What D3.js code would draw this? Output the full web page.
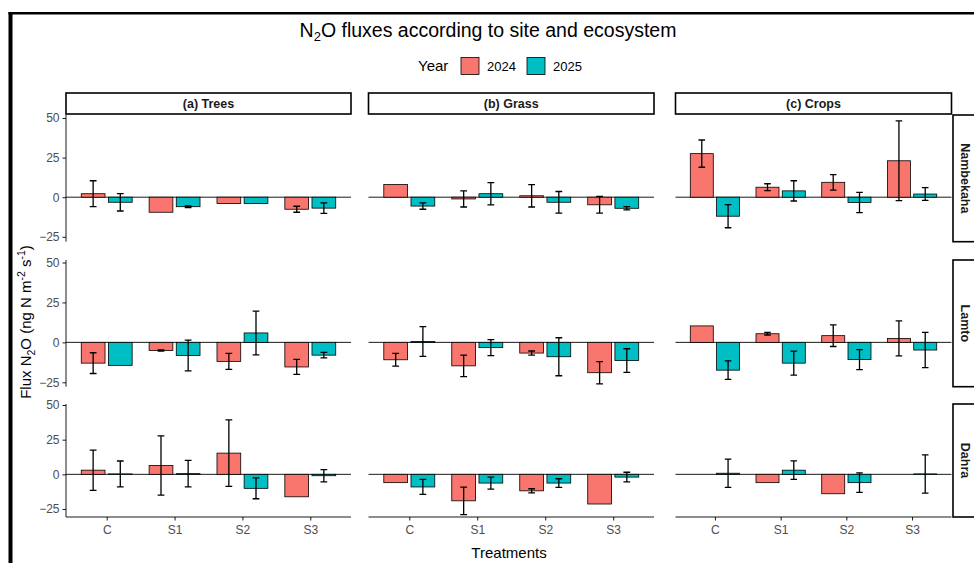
<!DOCTYPE html>
<html>
<head>
<meta charset="utf-8">
<title>N2O fluxes according to site and ecosystem</title>
<script src="https://d3js.org/d3.v7.min.js"></script>
<style>
	body { margin: 0; background: #fff; }
	svg { display: block; font-family: "Liberation Sans", Arial, Helvetica, sans-serif; }
	.strip rect { fill: #fff; stroke: #000; stroke-width: 1.6; }
	.strip text { font-weight: bold; font-size: 12.5px; fill: #1a1a1a; }
	.axis .tick text { font-size: 12px; fill: #4d4d4d; font-family: "Liberation Sans", Arial, sans-serif; }
	.axis .tick line { stroke: #000; stroke-width: 0.9; }
	.axis-line, .zero { stroke: #000; stroke-width: 0.9; }
	.bar { stroke: #000; stroke-width: 0.8; }
	.err { stroke: #000; stroke-width: 1.3; fill: none; }
</style>
</head>
<body>
<div id="chart"></div>
<script>
	// ---- data (mean flux and standard error) ----
	var sites = ["Nambekaha", "Lamto", "Dahra"];
	var ecosystems = ["(a) Trees", "(b) Grass", "(c) Crops"];
	var treatments = ["C", "S1", "S2", "S3"];
	var years = ["2024", "2025"];

	// rows: Trees, Grass, Crops ; columns: C, S1, S2, S3
	var nambekaha2024 = [[2.2, -9.5, -4.0, -7.6], [8.0, -1.1, 0.9, -4.8], [27.5, 6.3, 9.4, 23.0]];
	var nambekaha2024se = [[8.2, null, null, 1.9], [null, 5.1, 7.1, 5.3], [8.6, 2.2, 4.9, 25.2]];
	var nambekaha2025 = [[-3.2, -6.0, -4.0, -6.9], [-5.6, 2.2, -3.2, -7.0], [-12.0, 4.0, -3.3, 2.0]];
	var nambekaha2025se = [[5.5, 0.5, null, 3.3], [2.0, 7.0, 6.8, 1.0], [7.3, 6.4, 6.4, 4.0]];

	var lamto2024 = [[-13.0, -5.1, -11.9, -15.4], [-10.9, -14.7, -6.7, -19.0], [10.3, 5.4, 4.2, 2.5]];
	var lamto2024se = [[6.5, 0.4, 5.0, 4.7], [4.0, 6.7, 1.3, 7.0], [null, 0.8, 6.8, 10.9]];
	var lamto2025 = [[-14.4, -8.2, 5.9, -8.0], [0.5, -3.3, -9.0, -11.4], [-17.4, -13.0, -10.8, -4.8]];
	var lamto2025se = [[null, 9.6, 13.7, 1.7], [9.3, 5.0, 11.9, 7.4], [5.8, 7.5, 6.3, 11.0]];

	var dahra2024 = [[3.0, 6.4, 15.3, -16.2], [-6.0, -19.1, -11.9, -21.4], [null, -6.0, -14.0, null]];
	var dahra2024se = [[14.5, 21.4, 24.0, null], [null, 9.9, 1.5, null], [null, null, null, null]];
	var dahra2025 = [[0.3, 0.5, -10.1, -1.0], [-9.1, -6.3, -6.3, -2.0], [0.8, 3.0, -6.0, 0.3]];
	var dahra2025se = [[9.3, 9.6, 7.5, 4.4], [5.4, 4.3, 3.1, 3.5], [10.2, 6.7, 7.0, 13.8]];

	var yTicks = [-25, 0, 25, 50];

	var means = [[nambekaha2024, nambekaha2025], [lamto2024, lamto2025], [dahra2024, dahra2025]];
	var errors = [[nambekaha2024se, nambekaha2025se], [lamto2024se, lamto2025se], [dahra2024se, dahra2025se]];

	// ---- layout ----
	var width = 974, height = 563;
	var cols = [[66, 351], [368.5, 654], [675.5, 951.5]];
	var rows = [
		{top: 115, bottom: 241.7, at50: 118, atm25: 236.8},
		{top: 260, bottom: 386.7, at50: 262.5, atm25: 382.3},
		{top: 404, bottom: 517, at50: 405, atm25: 509}
	];
	var stripTop = 93, stripH = 21;
	var rightStripX = 953;

	var color = d3.scaleOrdinal().domain(years).range(["#F8766D", "#00BFC4"]);

	var svg = d3.select("#chart").append("svg")
		.attr("width", width)
		.attr("height", height);

	svg.append("rect").attr("width", width).attr("height", height).attr("fill", "#fff");

	// frame of the screenshot
	svg.append("rect").attr("x", 8.5).attr("y", 12).attr("width", width).attr("height", 2.5).attr("fill", "#000");
	svg.append("rect").attr("x", 8.5).attr("y", 12).attr("width", 4).attr("height", height).attr("fill", "#000");

	// title
	var title = svg.append("text")
		.attr("x", 488).attr("y", 36.5)
		.attr("text-anchor", "middle")
		.style("font-size", "19.5px");
	title.append("tspan").text("N");
	title.append("tspan").attr("dy", 4).style("font-size", "13px").text("2");
	title.append("tspan").attr("dy", -4).text("O fluxes according to site and ecosystem");

	// legend
	var legend = svg.append("g");
	legend.append("text").attr("x", 418).attr("y", 71).style("font-size", "15px").text("Year");
	var legendX = [461, 527];
	years.forEach(function(yr, k) {
		legend.append("rect")
			.attr("x", legendX[k]).attr("y", 57.5)
			.attr("width", 18).attr("height", 17)
			.attr("fill", color(yr))
			.attr("stroke", "#000").attr("stroke-width", 0.8);
		legend.append("text")
			.attr("x", legendX[k] + 26).attr("y", 70.5)
			.style("font-size", "13px")
			.text(yr);
	});

	// top strips
	ecosystems.forEach(function(eco, j) {
		var g = svg.append("g").attr("class", "strip");
		g.append("rect").attr("x", cols[j][0]).attr("y", stripTop)
			.attr("width", cols[j][1] - cols[j][0]).attr("height", stripH);
		g.append("text").attr("x", (cols[j][0] + cols[j][1]) / 2).attr("y", stripTop + 15)
			.attr("text-anchor", "middle").text(eco);
	});

	// right strips
	sites.forEach(function(site, i) {
		var r = rows[i];
		var g = svg.append("g").attr("class", "strip");
		g.append("rect").attr("x", rightStripX).attr("y", r.top)
			.attr("width", 26).attr("height", r.bottom - r.top);
		g.append("text")
			.attr("transform", "translate(" + (rightStripX + 7.5) + "," + ((r.top + r.bottom) / 2) + ") rotate(90)")
			.attr("text-anchor", "middle").text(site);
	});

	// panels
	sites.forEach(function(site, i) {
		var r = rows[i];
		var y = d3.scaleLinear().domain([-25, 50]).range([r.atm25, r.at50]);

		ecosystems.forEach(function(eco, j) {
			var x = d3.scalePoint().domain(treatments).range(cols[j]).padding(0.6);
			var step = x.step();
			var g = svg.append("g");

			g.append("line").attr("class", "zero")
				.attr("x1", cols[j][0]).attr("x2", cols[j][1])
				.attr("y1", y(0)).attr("y2", y(0));

			years.forEach(function(yr, k) {
				var off = (k === 0 ? -0.2 : 0.2) * step;
				var bw = 0.35 * step;
				treatments.forEach(function(t, ti) {
					var v = means[i][k][j][ti];
					if (v === null) return;
					var cx = x(t) + off;
					g.append("rect").attr("class", "bar")
						.attr("x", cx - bw / 2)
						.attr("y", Math.min(y(v), y(0)))
						.attr("width", bw)
						.attr("height", Math.abs(y(v) - y(0)))
						.attr("fill", color(yr));
				});
				treatments.forEach(function(t, ti) {
					var v = means[i][k][j][ti], se = errors[i][k][j][ti];
					if (v === null || se === null) return;
					var cx = x(t) + off, cw = 0.05 * step;
					var y1 = y(v + se), y2 = y(v - se);
					g.append("path").attr("class", "err")
						.attr("d", "M" + (cx - cw) + "," + y1 + "H" + (cx + cw) +
							"M" + cx + "," + y1 + "V" + y2 +
							"M" + (cx - cw) + "," + y2 + "H" + (cx + cw));
				});
			});

			// y axis on the left column
			if (j === 0) {
				g.append("line").attr("class", "axis-line")
					.attr("x1", cols[j][0]).attr("x2", cols[j][0])
					.attr("y1", r.top).attr("y2", r.bottom);
				var ya = g.append("g").attr("class", "axis")
					.attr("transform", "translate(" + cols[j][0] + ",0)")
					.call(d3.axisLeft(y).tickValues(yTicks).tickSize(3.5).tickPadding(3));
				ya.select(".domain").remove();
			}
			// x axis on the bottom row
			if (i === sites.length - 1) {
				g.append("line").attr("class", "axis-line")
					.attr("x1", cols[j][0]).attr("x2", cols[j][1])
					.attr("y1", r.bottom).attr("y2", r.bottom);
				var xa = g.append("g").attr("class", "axis")
					.attr("transform", "translate(0," + r.bottom + ")")
					.call(d3.axisBottom(x).tickSize(3.5).tickPadding(5));
				xa.select(".domain").remove();
			}
		});
	});

	// axis titles
	svg.append("text")
		.attr("x", 509).attr("y", 558)
		.attr("text-anchor", "middle")
		.style("font-size", "15px")
		.text("Treatments");

	var yTitle = svg.append("text")
		.attr("transform", "translate(31,322) rotate(-90)")
		.attr("text-anchor", "middle")
		.style("font-size", "15px");
	yTitle.append("tspan").text("Flux N");
	yTitle.append("tspan").attr("dy", 3.5).style("font-size", "10.5px").text("2");
	yTitle.append("tspan").attr("dy", -3.5).text("O (ng N m");
	yTitle.append("tspan").attr("dy", -6).style("font-size", "10.5px").text("-2");
	yTitle.append("tspan").attr("dy", 6).text(" s");
	yTitle.append("tspan").attr("dy", -6).style("font-size", "10.5px").text("-1");
	yTitle.append("tspan").attr("dy", 6).text(")");
</script>
</body>
</html>
